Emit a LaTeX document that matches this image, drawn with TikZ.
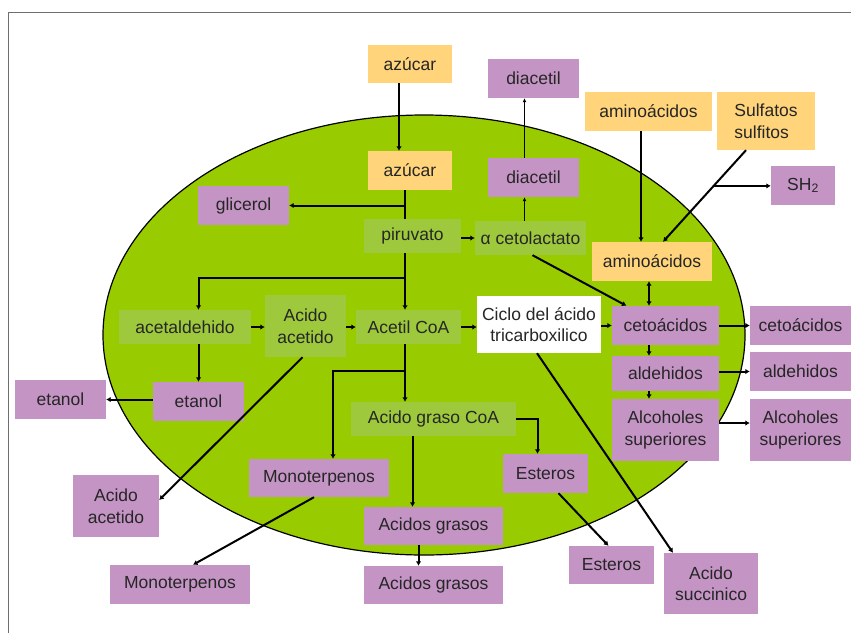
\documentclass[tikz,border=0pt]{standalone}
\usepackage{fontspec}
\setmainfont{Liberation Sans}
\usetikzlibrary{arrows.meta,calc}
\definecolor{cellGreen}{RGB}{153,204,0}
\definecolor{boxGreen}{RGB}{158,201,60}
\definecolor{boxPurple}{RGB}{196,148,196}
\definecolor{boxYellow}{RGB}{255,212,122}
\definecolor{frameGray}{RGB}{110,110,110}

\begin{document}
\begin{tikzpicture}[
    x=1pt, y=-1pt,
    box/.style={
        inner sep=0pt,
        align=center,
        text=black!85,
        font=\fontsize{17.5}{21.5}\selectfont
    },
    ybox/.style={box, fill=boxYellow},
    pbox/.style={box, fill=boxPurple},
    gbox/.style={box, fill=boxGreen},
    wbox/.style={box, fill=white},
    line/.style={line width=2pt},
    arr/.style={line width=2pt, -{Latex[length=4.5pt,width=5.5pt]}},
    thinarr/.style={line width=1pt, -{Latex[length=4pt,width=4pt]}}
    ]

    \useasboundingbox (0,0) rectangle (851,633);
    \draw[frameGray, line width=1pt] (8,633) -- (8,12) -- (851,12);
    \draw[fill=cellGreen, line width=1.2pt] (424,335) ellipse [x radius=321pt, y radius=220pt];

    % inputs
    \node[ybox, minimum width=84pt, minimum height=38pt] (AzucarTop) at (410,64) {azúcar};
    \node[ybox, minimum width=127pt, minimum height=39pt] (AminoTop) at (648.5,111.5) {aminoácidos};
    \node[ybox, minimum width=98pt, minimum height=58pt, align=left] (Sulfatos) at (766,121) {Sulfatos\\sulfitos};

    % inside the cell
    \node[ybox, minimum width=84pt, minimum height=39pt] (AzucarIn) at (410,170.5) {azúcar};
    \node[pbox, minimum width=91pt, minimum height=39pt] (Glicerol) at (243.5,205.5) {glicerol};
    \node[gbox, minimum width=97pt, minimum height=34pt] (Piruvato) at (412.5,236) {piruvato};
    \node[gbox, minimum width=111pt, minimum height=34pt] (Cetolactato) at (530.5,238) {α cetolactato};
    \node[pbox, minimum width=91pt, minimum height=39pt] (DiacetilIn) at (533.5,177.5) {diacetil};
    \node[ybox, minimum width=120pt, minimum height=39pt] (AminoIn) at (652,261.5) {aminoácidos};
    \node[gbox, minimum width=132pt, minimum height=34pt] (Acetaldehido) at (185,327) {acetaldehido};
    \node[gbox, minimum width=81pt, minimum height=62pt] (AcetidoIn) at (305.5,326) {Acido\\acetido};
    \node[gbox, minimum width=105pt, minimum height=34pt] (AcetilCoA) at (408.5,327) {Acetil CoA};
    \node[wbox, minimum width=124pt, minimum height=57pt] (Ciclo) at (539,324.5) {Ciclo del ácido\\tricarboxilico};
    \node[pbox, minimum width=107pt, minimum height=39pt] (CetoIn) at (665.5,325.5) {cetoácidos};
    \node[pbox, minimum width=107pt, minimum height=35pt] (AldIn) at (665.5,373.5) {aldehidos};
    \node[pbox, minimum width=107pt, minimum height=62pt] (AlcIn) at (665.5,430) {Alcoholes\\superiores};
    \node[pbox, minimum width=91pt, minimum height=39pt] (EtanolIn) at (198.5,401.5) {etanol};
    \node[gbox, minimum width=165pt, minimum height=34pt] (GrasoCoA) at (433.5,419) {Acido graso CoA};
    \node[pbox, minimum width=140pt, minimum height=38pt] (MonoIn) at (319,478) {Monoterpenos};
    \node[pbox, minimum width=85pt, minimum height=39pt] (EsterosIn) at (545.5,473.5) {Esteros};
    \node[pbox, minimum width=139pt, minimum height=38pt] (AcGrasosIn) at (433.5,526) {Acidos grasos};

    % outputs
    \node[pbox, minimum width=91pt, minimum height=39pt] (DiacetilTop) at (533.5,78.5) {diacetil};
    \node[pbox, minimum width=64pt, minimum height=39pt] (SH2) at (803,185.5) {SH\textsubscript{2}};
    \node[pbox, minimum width=101pt, minimum height=39pt] (CetoOut) at (800.5,325.5) {cetoácidos};
    \node[pbox, minimum width=101pt, minimum height=39pt] (AldOut) at (800.5,371.5) {aldehidos};
    \node[pbox, minimum width=101pt, minimum height=62pt] (AlcOut) at (800.5,430) {Alcoholes\\superiores};
    \node[pbox, minimum width=91pt, minimum height=39pt] (EtanolOut) at (60.5,399.5) {etanol};
    \node[pbox, minimum width=86pt, minimum height=62pt] (AcetidoOut) at (116,506) {Acido\\acetido};
    \node[pbox, minimum width=140pt, minimum height=39pt] (MonoOut) at (180,584.5) {Monoterpenos};
    \node[pbox, minimum width=139pt, minimum height=38pt] (AcGrasosOut) at (433.5,585) {Acidos grasos};
    \node[pbox, minimum width=85pt, minimum height=38pt] (EsterosOut) at (611.5,565) {Esteros};
    \node[pbox, minimum width=94pt, minimum height=61pt] (Succinico) at (711,583.5) {Acido\\succinico};

    % sugar and pyruvate
    \coordinate (SplitA) at (405,278);
    \coordinate (SplitB) at (405,371);
    \draw[arr] ([xshift=-11pt]AzucarTop.south) -- ([xshift=-11pt]AzucarIn.north);
    \draw[line] (AzucarIn.south -| SplitA) -- (Piruvato.north -| SplitA);
    \draw[arr] (AzucarIn.south -| SplitA) |- (Glicerol.east);
    \draw[line] (Piruvato.south -| SplitA) -- (SplitA);
    \draw[arr] (SplitA) -| (Acetaldehido.north -| EtanolIn.north);
    \draw[arr] (SplitA) -- (AcetilCoA.north -| SplitA);
    \draw[arr] (Cetolactato.west -| Piruvato.east) -- (Cetolactato.west);
    \draw[thinarr] ([xshift=-9pt]DiacetilIn.south |- Cetolactato.north) -- ([xshift=-9pt]DiacetilIn.south);
    \draw[thinarr] ([xshift=-9pt]DiacetilIn.north) -- ([xshift=-9pt]DiacetilTop.south);
    \draw[arr] ([xshift=2pt]Cetolactato.south) -- ([xshift=-39pt]CetoIn.north);

    % amino acids and sulphur
    \coordinate (SulfStart) at ([xshift=-20pt]Sulfatos.south);
    \coordinate (SulfEnd) at ([xshift=11pt]AminoIn.north);
    \coordinate (SulfBranch) at ($(SulfStart)!0.39!(SulfEnd)$);
    \draw[arr] ([xshift=-7.5pt]AminoTop.south) -- ([xshift=-11pt]AminoIn.north);
    \draw[arr] (SulfStart) -- (SulfEnd);
    \draw[arr] (SulfBranch) -- (SulfBranch -| SH2.west);
    \draw[line width=2pt, {Latex[length=4.5pt,width=5.5pt]}-{Latex[length=4.5pt,width=5.5pt]}] ([xshift=-3pt]AminoIn.south) -- ([xshift=-16.5pt]CetoIn.north);
    \draw[arr] ([xshift=-16.5pt]CetoIn.south) -- ([xshift=-16.5pt]AldIn.north);
    \draw[arr] ([xshift=-16.5pt]AldIn.south) -- ([xshift=-16.5pt]AlcIn.north);
    \draw[arr] (CetoIn.east) -- (CetoOut.west);
    \draw[arr] (AldIn.east |- AldOut.west) -- (AldOut.west);
    \draw[arr] ([yshift=7pt]AlcIn.east) -- ([yshift=7pt]AlcOut.west);

    % main chain
    \draw[arr] (Acetaldehido.east) -- (Acetaldehido.east -| AcetidoIn.west);
    \draw[arr] (AcetidoIn.east |- AcetilCoA.west) -- (AcetilCoA.west);
    \draw[arr] (AcetilCoA.east) -- (AcetilCoA.east -| Ciclo.west);
    \draw[arr] (Ciclo.east |- CetoIn.west) -- (CetoIn.west);
    \draw[arr] (Acetaldehido.south -| EtanolIn.north) -- (EtanolIn.north);
    \draw[arr] (EtanolIn.west |- EtanolOut.east) -- (EtanolOut.east);
    \draw[arr] ([xshift=-3pt]AcetidoIn.south) -- ([yshift=6pt]AcetidoOut.east);
    \draw[arr] ([xshift=-2pt]Ciclo.south) -- ([xshift=-38pt]Succinico.north);

    % fatty acids
    \draw[arr] (AcetilCoA.south -| SplitB) -- (GrasoCoA.north -| SplitB);
    \draw[arr] (SplitB) -| ([xshift=14pt]MonoIn.north);
    \draw[arr] ([xshift=-21pt]GrasoCoA.south) -- ([xshift=-21pt]AcGrasosIn.north);
    \draw[arr] ([xshift=-15pt]AcGrasosIn.south) -- ([xshift=-15pt]AcGrasosOut.north);
    \draw[arr] (GrasoCoA.east) -| ([xshift=-8pt]EsterosIn.north);
    \draw[arr] ([xshift=13pt]EsterosIn.south) -- ([xshift=-3pt]EsterosOut.north);
    \draw[arr] ([xshift=-5pt]MonoIn.south) -- ([xshift=13pt]MonoOut.north);
\end{tikzpicture}
\end{document}
